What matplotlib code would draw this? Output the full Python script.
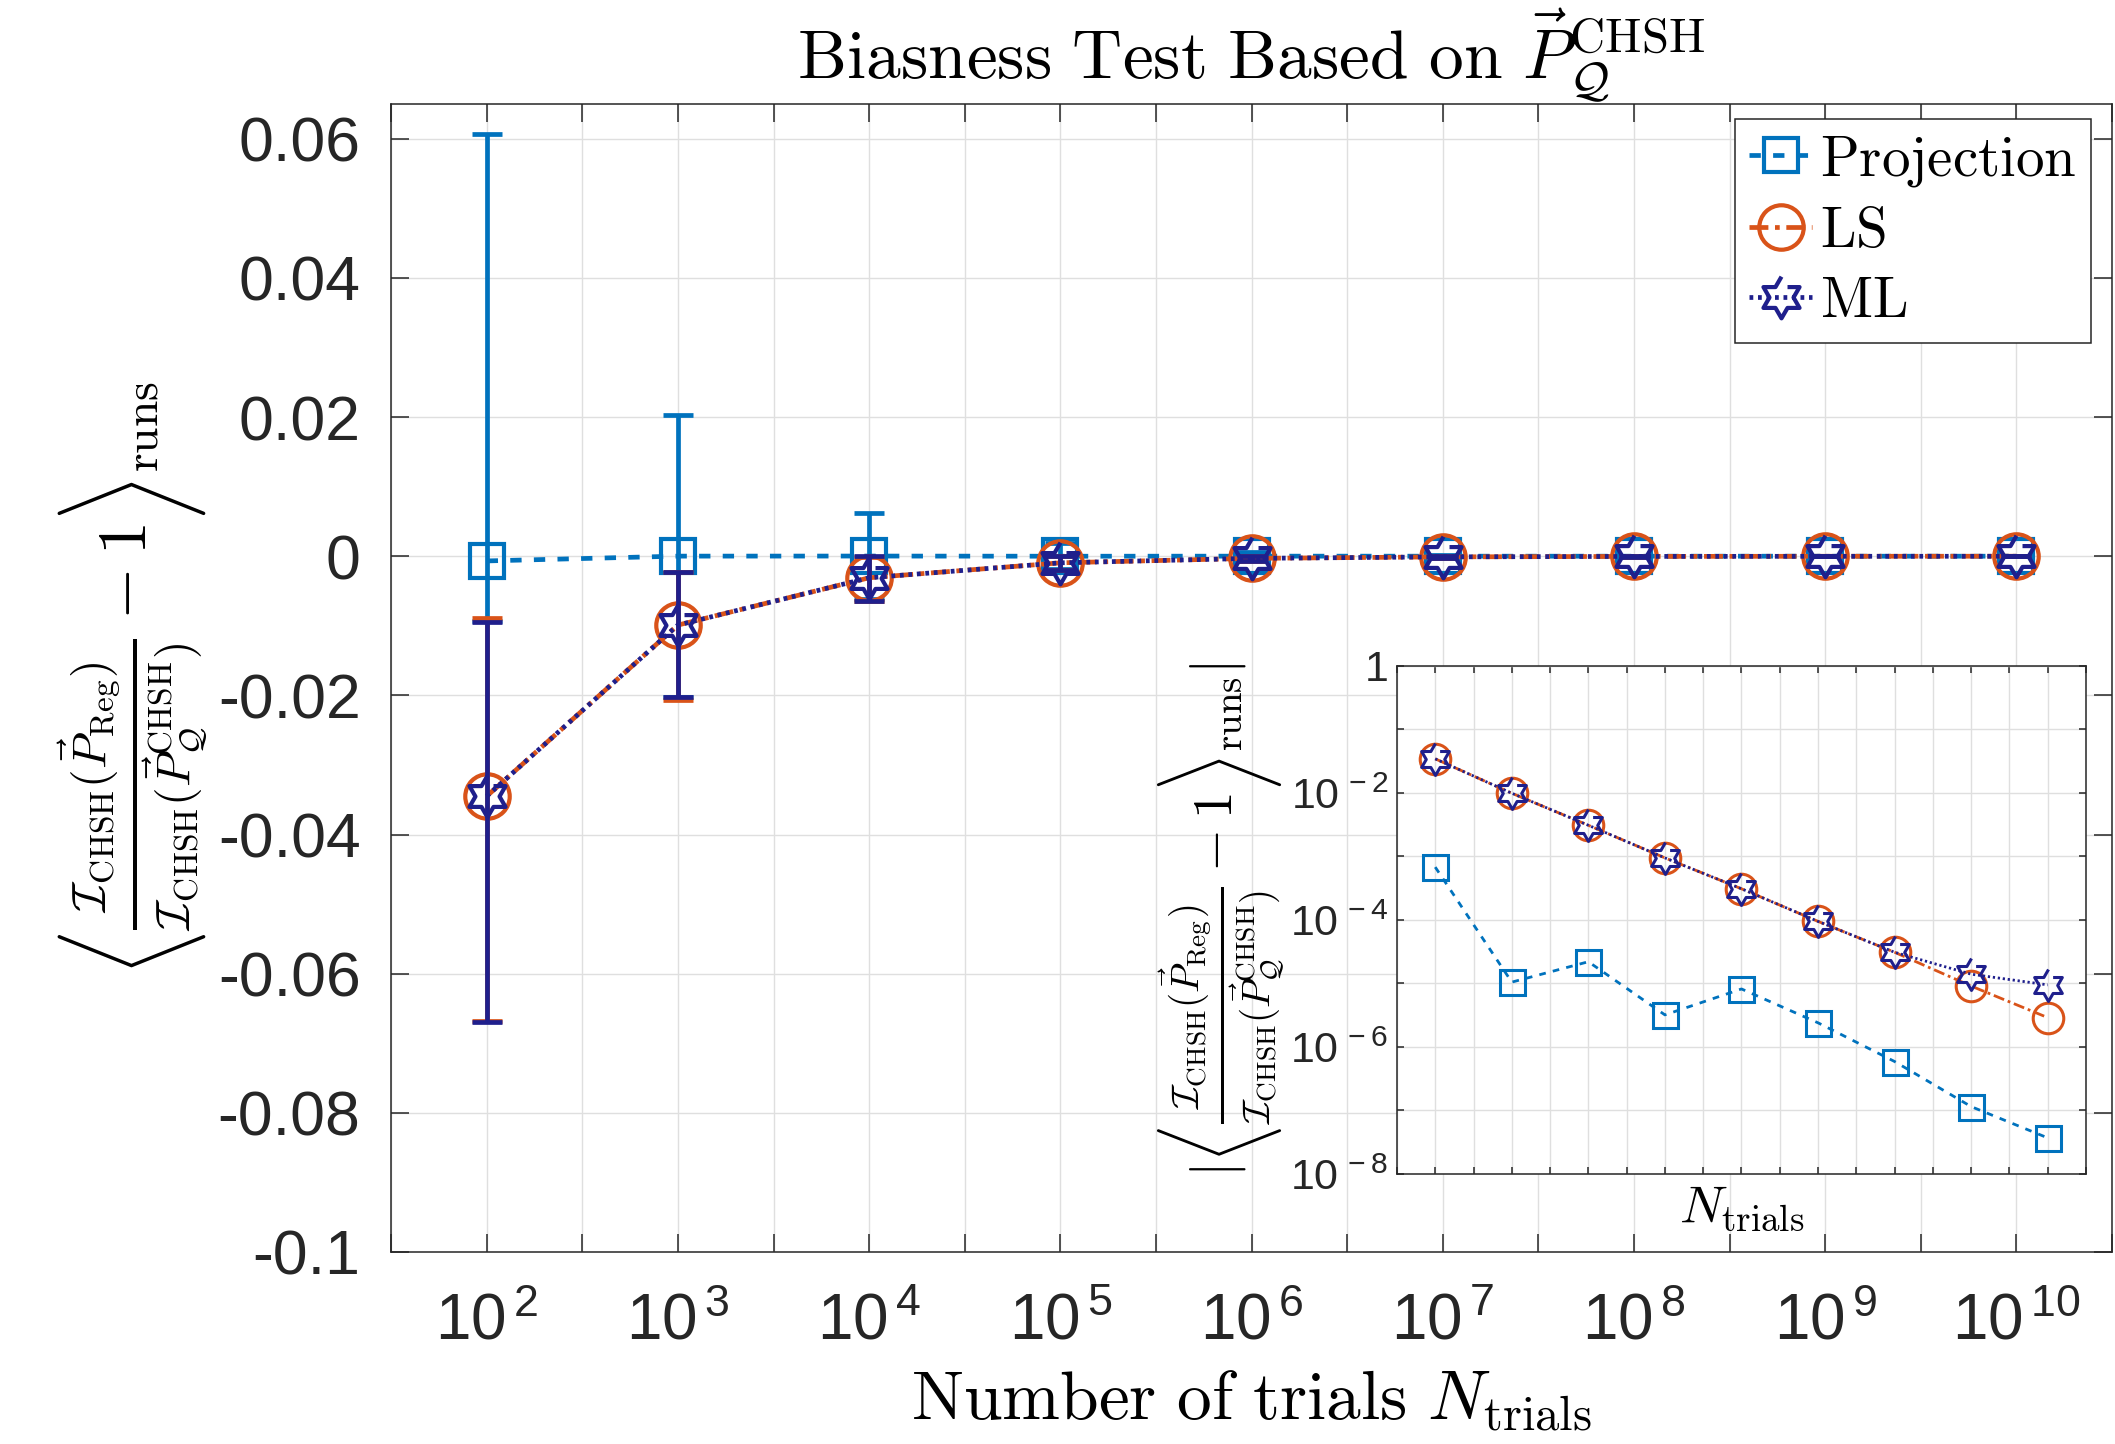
import numpy as np
import matplotlib
matplotlib.use("Agg")
import matplotlib.pyplot as plt
from matplotlib.ticker import FixedLocator, FixedFormatter, NullLocator

plt.rcParams["mathtext.fontset"] = "cm"
plt.rcParams["font.family"] = ["Liberation Sans", "DejaVu Sans"]

# ---------- data ----------
n_trials = [1e2, 1e3, 1e4, 1e5, 1e6, 1e7, 1e8, 1e9, 1e10]

proj_mean = [-6.8e-4, 1.05e-5, 2.2e-5, -3.2e-6, 8.2e-6, 2.4e-6, 5.9e-7, 1.15e-7, 3.7e-8]
proj_err_lo = [0.0086, 0.0203, 0.0062, 0.0019, 6e-4, 2e-4, 6e-5, 2e-5, 6e-6]
proj_err_hi = [0.0614, 0.0203, 0.0062, 0.0019, 6e-4, 2e-4, 6e-5, 2e-5, 6e-6]

ls_mean = [-0.0345, -0.0099, -0.0031, -9.5e-4, -3.1e-4, -9.5e-5, -3.1e-5, -9.1e-6, -2.9e-6]
ls_err_lo = [0.0323, 0.0107, 0.0034, 0.0011, 3.4e-4, 1e-4, 3.4e-5, 1e-5, 3.4e-6]
ls_err_hi = [0.0256, 0.0077, 0.0030, 0.0010, 3.1e-4, 1e-4, 3.1e-5, 1e-5, 3.1e-6]

ml_mean = [-0.0345, -0.0099, -0.0031, -9.5e-4, -3.1e-4, -9.5e-5, -3.1e-5, -1.4e-5, -9.5e-6]
ml_err_lo = [0.0324, 0.0103, 0.0034, 0.0011, 3.4e-4, 1e-4, 3.4e-5, 1.2e-5, 1e-5]
ml_err_hi = [0.0250, 0.0077, 0.0031, 0.0010, 3.1e-4, 1e-4, 3.1e-5, 1.2e-5, 1e-5]

labels = ["Projection", "LS", "ML"]
main_yticks = [-0.1, -0.08, -0.06, -0.04, -0.02, 0, 0.02, 0.04, 0.06]
main_yticklabels = ["-0.1", "-0.08", "-0.06", "-0.04", "-0.02", "0", "0.02", "0.04", "0.06"]
x_tick_exps = [1.5, 2, 2.5, 3, 3.5, 4, 4.5, 5, 5.5, 6, 6.5, 7, 7.5, 8, 8.5, 9, 9.5, 10, 10.5]
inset_yticks = [1e-8, 1e-7, 1e-6, 1e-5, 1e-4, 1e-3, 1e-2, 1e-1, 1]
inset_yticklabels = [r"$\mathregular{10^{\,-8}}$", "", r"$\mathregular{10^{\,-6}}$", "",
                     r"$\mathregular{10^{\,-4}}$", "", r"$\mathregular{10^{\,-2}}$", "", "1"]

# ---------- style ----------
C_PROJ = "#0072BD"
C_LS = "#D95319"
C_ML = "#1F1F8C"
AX_COL = "#262626"
GRID_COL = "#DFDFDF"

# six-pointed star (MATLAB 'hexagram')
ang = np.deg2rad(90 + 30 * np.arange(12))
rad = np.where(np.arange(12) % 2 == 0, 1.0, 1 / np.sqrt(3))
hexagram = np.column_stack([rad * np.cos(ang), rad * np.sin(ang)])

series = [
    (proj_mean, proj_err_lo, proj_err_hi, C_PROJ, (0, (2.4, 2.6)), "s", 24, 18),
    (ls_mean, ls_err_lo, ls_err_hi, C_LS, (0, (4, 1.4, 1, 1.4)), "o", 32, 22),
    (ml_mean, ml_err_lo, ml_err_hi, C_ML, (0, (0.8, 1.0)), hexagram, 30, 23),
]

RATIO = (r"\frac{\mathcal{I}_{\mathrm{CHSH}}(\vec{P}_{\mathrm{Reg}})}"
         r"{\mathcal{I}_{\mathrm{CHSH}}(\vec{P}_{\mathcal{Q}}^{\mathrm{CHSH}})}")


def style_axes(ax, tick_len):
    for sp in ax.spines.values():
        sp.set_color(AX_COL)
        sp.set_linewidth(1.1)
    ax.tick_params(which="both", direction="in", top=True, right=True,
                   length=tick_len, width=1.1, color=AX_COL, labelcolor=AX_COL)
    ax.grid(True, color=GRID_COL, linewidth=1.0)
    ax.set_axisbelow(True)


fig = plt.figure(figsize=(21.15, 14.44), dpi=100)
ax = fig.add_axes([0.1849, 0.1330, 0.8137, 0.7950])

lines = []
for (mean, lo, hi, col, ls, mk, ms, _), lab in zip(series, labels):
    ax.errorbar(n_trials, mean, yerr=[lo, hi], fmt="none", ecolor=col,
                elinewidth=3.4, capsize=11, capthick=3.4)
    ln, = ax.plot(n_trials, mean, color=col, linestyle=ls, linewidth=3.4,
                  marker=mk, markersize=ms, markerfacecolor="none",
                  markeredgewidth=3.0, label=lab)
    lines.append(ln)

ax.set_xscale("log")
ax.set_xlim(10 ** 1.5, 10 ** 10.5)
ax.set_ylim(-0.1, 0.065)
ax.xaxis.set_major_locator(FixedLocator([10 ** e for e in x_tick_exps]))
ax.xaxis.set_major_formatter(FixedFormatter(
    [r"$\mathregular{10^{\,%d}}$" % e if float(e).is_integer() else "" for e in x_tick_exps]))
ax.xaxis.set_minor_locator(NullLocator())
ax.yaxis.set_major_locator(FixedLocator(main_yticks))
ax.yaxis.set_major_formatter(FixedFormatter(main_yticklabels))
style_axes(ax, 13)
ax.tick_params(axis="y", labelsize=45, pad=22)
ax.tick_params(axis="x", labelsize=46, pad=29)

ax.set_title(r"$\mathrm{Biasness\ Test\ Based\ on\ }\vec{P}_{\mathcal{Q}}^{\mathrm{CHSH}}$",
             fontsize=50, pad=8)
ax.set_xlabel(r"$\mathrm{Number\ of\ trials\ }N_{\mathrm{trials}}$", fontsize=50, labelpad=12)
ax.set_ylabel(r"$\left\langle " + RATIO + r" - 1 \right\rangle_{\mathrm{runs}}$",
              fontsize=49, labelpad=6)

leg = ax.legend(handles=lines, labels=[r"$\mathrm{%s}$" % s for s in labels],
                loc="upper right", bbox_to_anchor=(0.9878, 0.9869), borderaxespad=0,
                fontsize=41, handlelength=1.1, handletextpad=0.15, labelspacing=0.28,
                borderpad=0.25, fancybox=False, framealpha=1, edgecolor=AX_COL)
leg.get_frame().set_linewidth(1.1)

# ---------- inset: absolute bias on log scale ----------
axin = fig.add_axes([0.6605, 0.1870, 0.3258, 0.3518])
axin.set_facecolor("white")
for (mean, lo, hi, col, ls, mk, _, ms_in) in series:
    axin.plot(n_trials, np.abs(mean), color=col, linestyle=ls, linewidth=2.0,
              marker=mk, markersize=ms_in, markerfacecolor="none", markeredgewidth=2.2)
axin.set_xscale("log")
axin.set_yscale("log")
axin.set_xlim(10 ** 1.5, 10 ** 10.5)
axin.set_ylim(1e-8, 1)
axin.xaxis.set_major_locator(FixedLocator([10 ** e for e in x_tick_exps]))
axin.xaxis.set_major_formatter(FixedFormatter([""] * len(x_tick_exps)))
axin.xaxis.set_minor_locator(NullLocator())
axin.yaxis.set_major_locator(FixedLocator(inset_yticks))
axin.yaxis.set_major_formatter(FixedFormatter(inset_yticklabels))
axin.yaxis.set_minor_locator(NullLocator())
style_axes(axin, 5)
axin.tick_params(axis="y", labelsize=31, pad=6)
axin.set_xlabel(r"$N_{\mathrm{trials}}$", fontsize=38, labelpad=4)
axin.set_ylabel(r"$|\left\langle " + RATIO + r" - 1 \right\rangle_{\mathrm{runs}}|$",
                fontsize=40, labelpad=2)

fig.savefig("out.png", dpi=100)
